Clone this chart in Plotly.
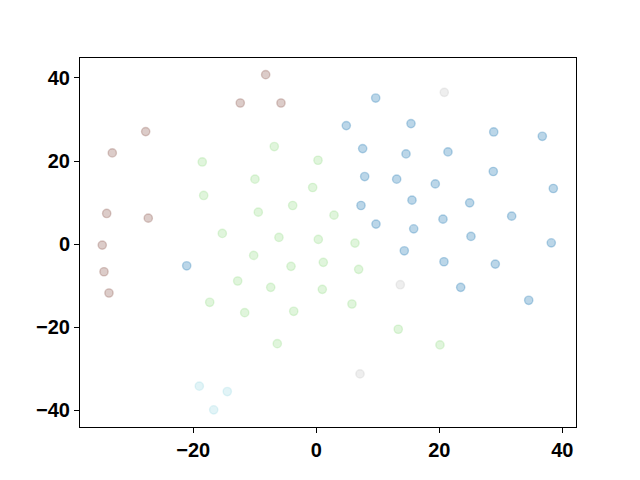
import plotly.graph_objects as go

# cluster data (t-SNE style embedding)
brown_x = [-8.23, -12.36, -5.74, -27.74, -33.17, -34.08, -27.32, -34.80, -34.52, -33.71]
brown_y = [40.8, 33.97, 33.97, 27.09, 21.95, 7.38, 6.25, -0.24, -6.66, -11.78]

lightblue_x = [-19.02, -14.47, -16.68]
lightblue_y = [-34.21, -35.50, -39.90]

gray_x = [20.81, 13.66, 7.11]
gray_y = [36.54, -9.78, -31.25]

blue_x = [9.66, 4.88, 15.40, 28.85, 36.75, 7.54, 14.59, 21.41, 28.78, 7.87, 13.07, 19.35,
          38.54, 15.56, 7.27, 24.94, 31.77, 9.71, 15.84, 20.60, 25.15, 38.21, 14.31, 20.76,
          29.11, 23.48, 34.54, -21.07]
blue_y = [35.17, 28.53, 29.01, 27.0, 25.96, 23.0, 21.71, 22.19, 17.48, 16.27, 15.63, 14.50,
          13.39, 10.58, 9.30, 9.93, 6.73, 4.81, 3.68, 6.01, 1.85, 0.31, -1.61, -4.25,
          -4.81, -10.41, -13.53, -5.22]

green_x = [-6.83, 0.28, -18.54, -9.97, -0.59, -18.31, -3.84, -9.43, 2.88, -15.28, -6.07, 0.33,
           6.29, -10.18, 1.14, -4.11, 6.89, -12.78, -7.41, 0.98, -17.33, -11.64, -3.67, 5.80,
           13.33, -6.34, 20.11]
green_y = [23.49, 20.19, 19.78, 15.63, 13.63, 11.71, 9.30, 7.69, 6.97, 2.57, 1.61, 1.13,
           0.24, -2.72, -4.40, -5.36, -6.08, -8.89, -10.41, -10.89, -14.01, -16.51, -16.18, -14.42,
           -20.50, -23.97, -24.28]

x_ticks = [-20, 0, 20, 40]
y_ticks = [-40, -20, 0, 20, 40]

groups = [
    (blue_x, blue_y, "rgba(31,119,180,0.3)"),
    (green_x, green_y, "rgba(152,223,138,0.3)"),
    (brown_x, brown_y, "rgba(140,86,75,0.3)"),
    (gray_x, gray_y, "rgba(199,199,199,0.3)"),
    (lightblue_x, lightblue_y, "rgba(158,218,229,0.3)"),
]

fig = go.Figure()
for gx, gy, col in groups:
    fig.add_trace(go.Scatter(
        x=gx, y=gy, mode="markers",
        marker=dict(size=8.3, color=col, line=dict(width=1.4, color=col)),
        showlegend=False, hoverinfo="skip",
    ))

axis_common = dict(
    showline=True, linecolor="black", linewidth=1, mirror=True,
    ticks="outside", ticklen=5, tickwidth=1, tickcolor="black",
    showgrid=False, zeroline=False,
    tickfont=dict(family="Liberation Sans, Arial, sans-serif", size=20, color="black", weight="bold"),
)

# page body has an 8px default margin, so offsets are compensated here
fig.update_layout(
    width=632, height=472,
    margin=dict(l=72, r=64, t=50, b=53, autoexpand=False),
    paper_bgcolor="white", plot_bgcolor="white",
    xaxis=dict(range=[-38.42, 42.23], tickvals=x_ticks, automargin=False, **axis_common),
    yaxis=dict(range=[-44.04, 44.81], tickvals=y_ticks, automargin=False, **axis_common),
)

fig.write_html("out.html")
